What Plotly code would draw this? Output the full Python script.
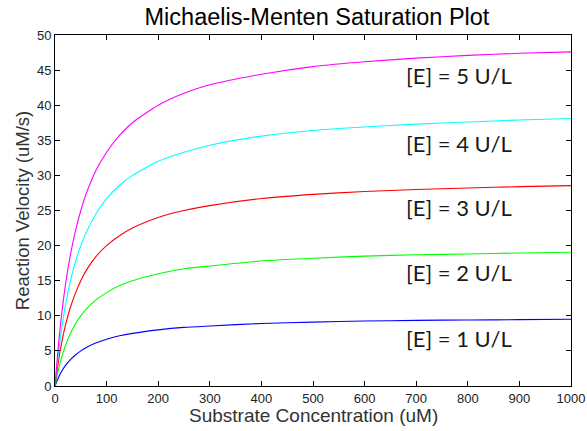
import plotly.graph_objects as go

substrate = [0, 5, 10, 20, 30, 40, 50, 60, 80, 100, 125, 150, 200, 250, 300, 400, 500, 600, 700, 800, 900, 1000]
v_e1 = [0, 0.9, 1.7, 2.9, 3.75, 4.45, 5.0, 5.45, 6.15, 6.65, 7.15, 7.5, 8.0, 8.35, 8.55, 8.9, 9.1, 9.25, 9.35, 9.4, 9.45, 9.5]
v_e2 = [0, 1.8, 3.3, 5.7, 7.5, 8.9, 10.0, 10.9, 12.3, 13.3, 14.3, 15.0, 16.0, 16.7, 17.1, 17.8, 18.2, 18.5, 18.7, 18.8, 18.95, 19.05]
v_e3 = [0, 2.7, 5.0, 8.6, 11.25, 13.3, 15.0, 16.4, 18.5, 20.0, 21.4, 22.5, 24.0, 25.0, 25.7, 26.7, 27.3, 27.7, 28.0, 28.2, 28.4, 28.55]
v_e4 = [0, 3.6, 6.7, 11.4, 15.0, 17.8, 20.0, 21.8, 24.6, 26.7, 28.6, 30.0, 32.0, 33.3, 34.3, 35.6, 36.4, 36.9, 37.3, 37.6, 37.9, 38.1]
v_e5 = [0, 4.5, 8.3, 14.3, 18.75, 22.2, 25.0, 27.3, 30.8, 33.3, 35.7, 37.5, 40.0, 41.7, 42.9, 44.4, 45.5, 46.2, 46.7, 47.1, 47.4, 47.6]

series = [
    ("[E] = 1 U/L", v_e1, "#0000ff"),
    ("[E] = 2 U/L", v_e2, "#00ff00"),
    ("[E] = 3 U/L", v_e3, "#ff0000"),
    ("[E] = 4 U/L", v_e4, "#00ffff"),
    ("[E] = 5 U/L", v_e5, "#ff00ff"),
]
label_y = [6.8, 16.2, 25.4, 34.6, 44.3]
label_x = 677
x_title = "Substrate Concentration (uM)"
y_title = "Reaction Velocity (uM/s)"

fig = go.Figure()
for (name, vals, col) in series:
    fig.add_trace(go.Scatter(x=substrate, y=vals, mode="lines", name=name,
                             line=dict(color=col, width=1.1, shape="spline", smoothing=0.6)))

for (name, vals, col), ly in zip(series, label_y):
    fig.add_annotation(x=label_x, y=ly, text=name, showarrow=False,
                       xanchor="left", yanchor="middle",
                       font=dict(family="Lato, Open Sans, sans-serif", size=22, color="#1a1a1a"))

fig.add_annotation(x=0.5, xref="paper", y=-0.083, yref="paper", text=x_title, showarrow=False,
                   xanchor="center", yanchor="middle", borderpad=0,
                   font=dict(family="Liberation Sans, Arial, sans-serif", size=19, color="#333"))

axis_common = dict(showline=True, linecolor="black", linewidth=1, mirror="ticks",
                   ticks="inside", ticklen=5, tickcolor="black", showgrid=False,
                   zeroline=False, automargin=False,
                   tickfont=dict(family="Liberation Sans, Arial, sans-serif", size=13, color="#222"))

fig.update_layout(
    width=587, height=431,
    margin=dict(l=55, r=16, t=35, b=45),
    paper_bgcolor="white", plot_bgcolor="white",
    showlegend=False,
    title=dict(text="Michaelis-Menten Saturation Plot", x=0.54, xanchor="center", y=0.962, yanchor="middle",
               font=dict(family="Liberation Sans, Arial, sans-serif", size=23.5, color="black")),
    xaxis=dict(range=[0, 1000], tickmode="array", tickvals=list(range(0, 1001, 100)),
               **axis_common),
    yaxis=dict(range=[0, 50], tickmode="array", tickvals=list(range(0, 51, 5)),
               title=dict(text=y_title, standoff=2,
                          font=dict(family="Liberation Sans, Arial, sans-serif", size=18.5, color="#333")),
               **axis_common),
)

fig.write_html("out.html")
